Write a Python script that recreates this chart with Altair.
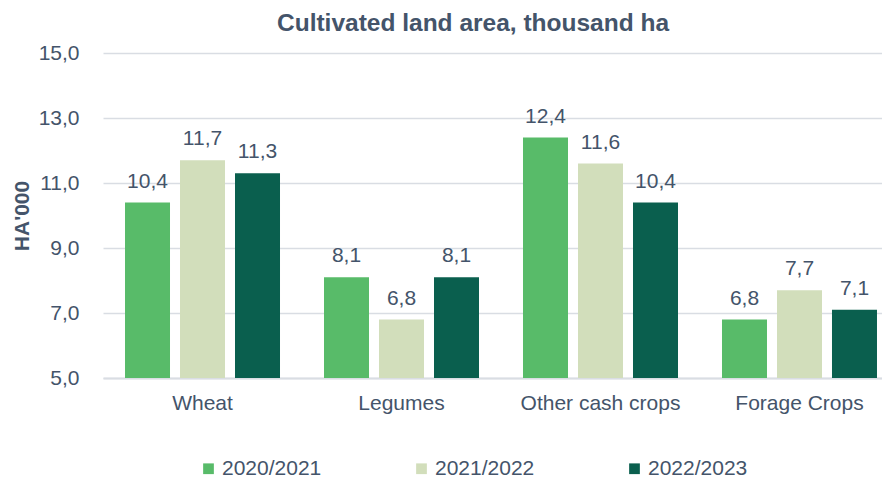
import altair as alt
import pandas as pd

title_text = "Cultivated land area, thousand ha"
categories = ["Wheat", "Legumes", "Other cash crops", "Forage Crops"]
years = ["2020/2021", "2021/2022", "2022/2023"]
v2020 = [10.4, 8.1, 12.4, 6.8]
v2021 = [11.7, 6.8, 11.6, 7.7]
v2022 = [11.3, 8.1, 10.4, 7.1]
y_ticks = [5, 7, 9, 11, 13, 15]
colors = ["#58BB69", "#D2DEBB", "#0A5F4E"]

rows = []
for yr, vals in zip(years, [v2020, v2021, v2022]):
    for c, v in zip(categories, vals):
        rows.append({"category": c, "year": yr, "value": v})
df = pd.DataFrame(rows)

TXT = "#44546A"
FONT = "Liberation Sans"

x = alt.X(
    "category:N",
    sort=categories,
    scale=alt.Scale(range=[0, 796], paddingInner=0.2211, paddingOuter=0.1106),
    axis=alt.Axis(
        title=None, labelAngle=0, labelFontSize=21, labelColor=TXT, labelFont=FONT,
        labelPadding=14, ticks=False, domainColor="#D9DDE3", domainWidth=2,
        labelLimit=300,
    ),
)
xo = alt.XOffset("year:N", sort=years, scale=alt.Scale(paddingInner=0.1818, paddingOuter=0))
y = alt.Y(
    "value:Q",
    scale=alt.Scale(domain=[5, 15], zero=False, nice=False),
    axis=alt.Axis(
        values=y_ticks, title="HA'000", titleFontSize=21, titleFont=FONT,
        titleColor=TXT, titleFontWeight="bold", titleAngle=-90, titleX=-81,
        titleY=162.5, titleBaseline="middle", titleAlign="center",
        labelExpr="replace(format(datum.value, '.1f'), '.', ',')",
        labelFontSize=21, labelFont=FONT, labelColor=TXT, labelPadding=24,
        ticks=False, domain=False, gridColor="#D9DDE3", gridWidth=1.5,
    ),
)

base = alt.Chart(df).transform_calculate(
    label="replace(format(datum.value, '.1f'), '.', ',')"
)

bars = base.mark_bar().encode(
    x=x,
    xOffset=xo,
    y=y,
    y2=alt.datum(5),
    color=alt.Color(
        "year:N",
        sort=years,
        scale=alt.Scale(domain=years, range=colors),
        legend=alt.Legend(
            title=None, orient="none", direction="horizontal", legendX=95,
            legendY=405, symbolType="square", symbolSize=115, symbolStrokeWidth=0,
            labelFontSize=21, labelFont=FONT, labelColor=TXT, labelOffset=3,
            columnPadding=89, labelLimit=300, padding=0,
        ),
    ),
)

labels = base.mark_text(
    baseline="alphabetic", dy=-15, fontSize=21, font=FONT, color=TXT
).encode(x=x, xOffset=xo, y=alt.Y("value:Q"), text="label:N")

title = alt.Chart(pd.DataFrame({"t": [title_text]})).mark_text(
    fontSize=24.5, font=FONT, fontWeight="bold", color=TXT, align="center",
    baseline="alphabetic",
).encode(x=alt.value(370), y=alt.value(-22), text="t:N")

chart = (
    alt.layer(bars, labels, title)
    .properties(
        width=779,
        height=325,
        autosize=alt.AutoSizeParams(type="none"),
        padding={"left": 95, "top": 45, "right": 0, "bottom": 100},
    )
    .configure_view(stroke=None)
)

chart.save("out.html", embed_options={"renderer": "svg", "actions": False})
